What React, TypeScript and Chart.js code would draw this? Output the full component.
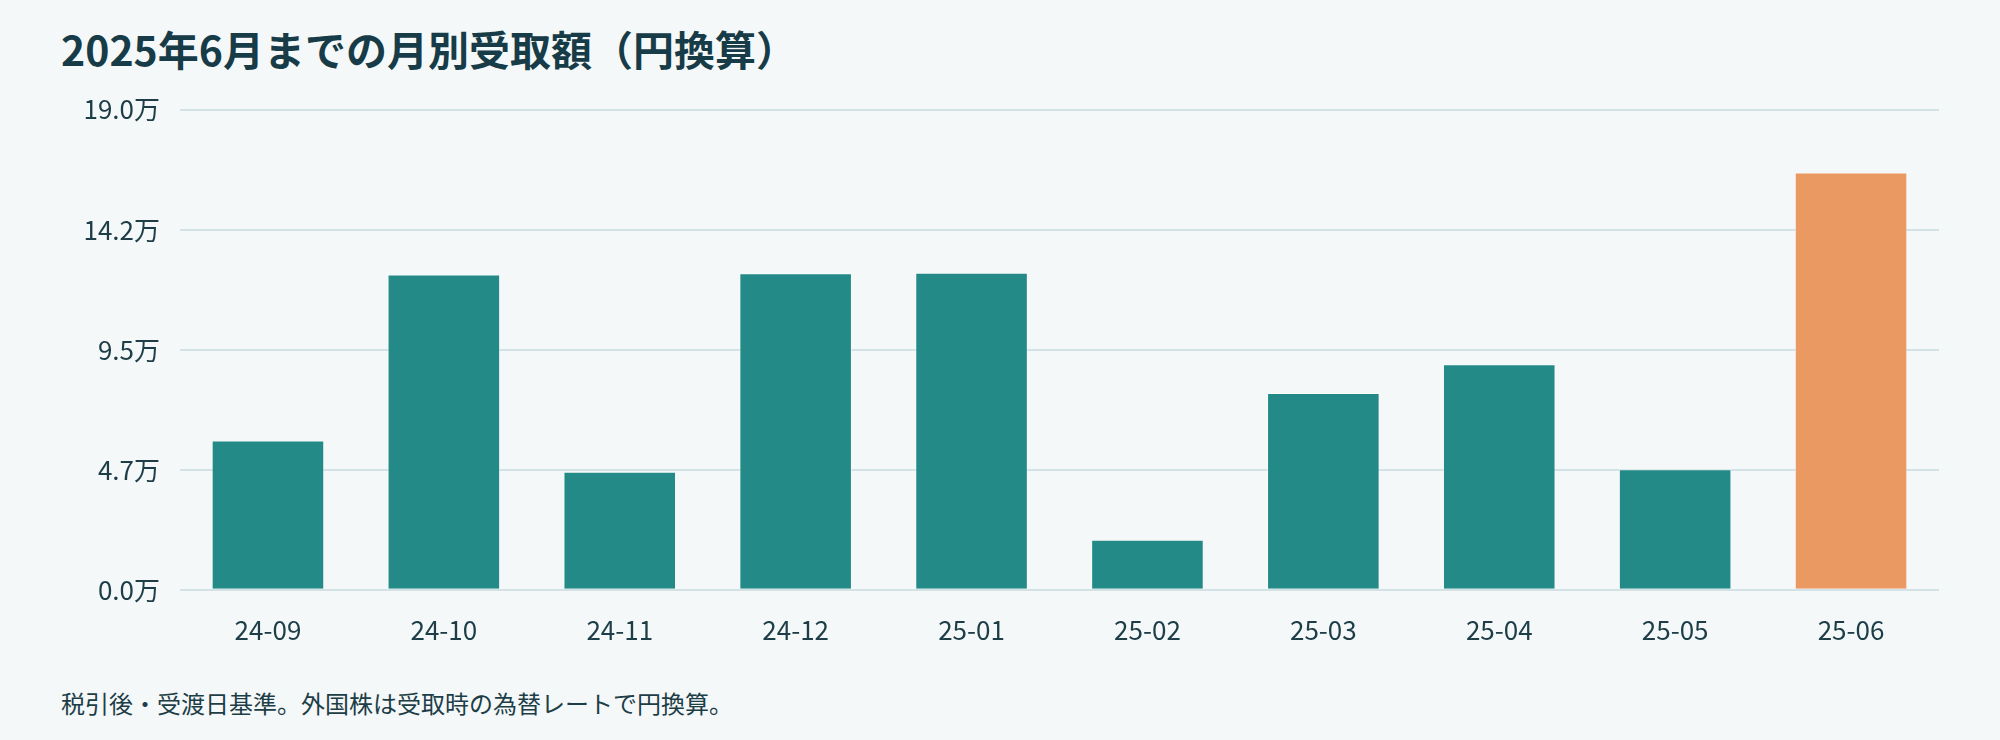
import React, { useRef, useEffect } from "react";
import Chart from "chart.js/auto";

const months = ["24-09", "24-10", "24-11", "24-12", "25-01", "25-02", "25-03", "25-04", "25-05", "25-06"];
const amounts = [59000, 124600, 46600, 125100, 125300, 19800, 77800, 89100, 47600, 164900];
const barColors = ["#238a88", "#238a88", "#238a88", "#238a88", "#238a88", "#238a88", "#238a88", "#238a88", "#238a88", "#eb9962"];
const yMax = 189750;

const FONT = "'Noto Sans CJK JP', 'Noto Sans', sans-serif";
const TEXT = "#1d3d47";

const App: React.FC = () => {
    const canvasRef = useRef<HTMLCanvasElement | null>(null);
    const chartRef = useRef<Chart | null>(null);

    useEffect(() => {
        document.body.style.margin = "0";
        if (canvasRef.current) {
            if (chartRef.current) {
                chartRef.current.destroy();
            }
            chartRef.current = new Chart(canvasRef.current, {
                type: "bar",
                data: {
                    labels: months,
                    datasets: [{
                        data: amounts,
                        backgroundColor: barColors,
                        borderColor: "rgba(255,255,255,0.45)",
                        borderWidth: 1,
                        categoryPercentage: 0.8,
                        barPercentage: 0.8
                    }]
                },
                options: {
                    animation: false,
                    responsive: false,
                    maintainAspectRatio: false,
                    // y tick padding also pads the top, so the canvas starts a bit higher
                    layout: { padding: { left: 80, right: 61, top: 0, bottom: 9 } },
                    plugins: {
                        legend: { display: false },
                        tooltip: { enabled: false }
                    },
                    scales: {
                        x: {
                            grid: { display: false, drawTicks: false },
                            border: { display: false },
                            ticks: {
                                padding: 25,
                                color: TEXT,
                                font: { family: FONT, size: 26 }
                            }
                        },
                        y: {
                            min: 0,
                            max: yMax,
                            afterFit: (scale: any) => { scale.width = 100; },
                            grid: { color: "#d3e2e5", lineWidth: 2, drawTicks: false },
                            border: { display: false },
                            ticks: {
                                stepSize: yMax / 4,
                                padding: 20,
                                color: TEXT,
                                font: { family: FONT, size: 26 },
                                callback: (v: any) => (Number(v) / 10000).toFixed(1) + "万"
                            }
                        }
                    }
                }
            });
        }
        return () => {
            if (chartRef.current) {
                chartRef.current.destroy();
                chartRef.current = null;
            }
        };
    }, []);

    return (
        <div style={{ position: "relative", width: 2000, height: 740, background: "#f4f8f9", fontFamily: FONT, overflow: "hidden" }}>
            <div style={{ position: "absolute", left: 61, top: 22, fontSize: 41, fontWeight: 700, color: "#173c47", lineHeight: "52px" }}>
                2025年6月までの月別受取額（円換算）
            </div>
            <canvas ref={canvasRef} width={2000} height={606} style={{ position: "absolute", left: 0, top: 74, width: 2000, height: 606 }}></canvas>
            <div style={{ position: "absolute", left: 61, top: 686, fontSize: 24, color: TEXT, lineHeight: "34px" }}>
                税引後・受渡日基準。外国株は受取時の為替レートで円換算。
            </div>
        </div>
    );
};

export default App;
